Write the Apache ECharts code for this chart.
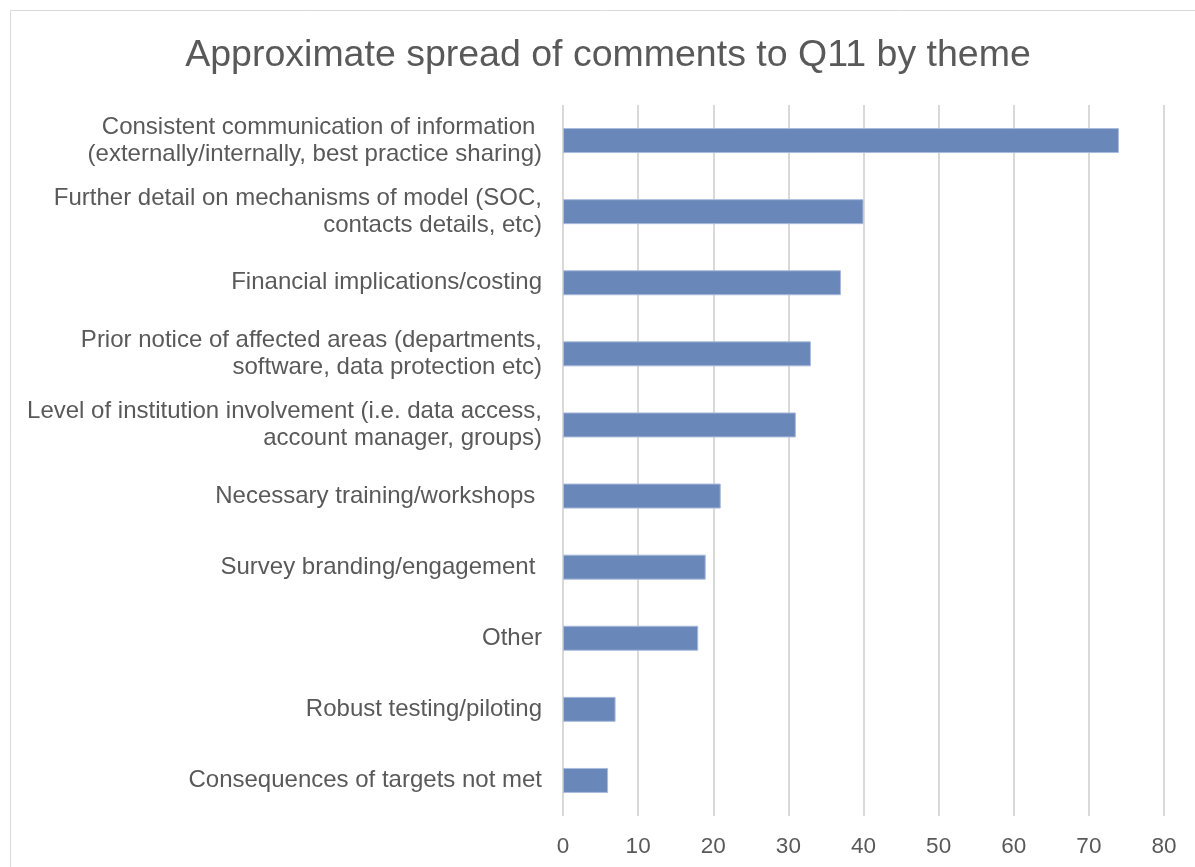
<!DOCTYPE html>
<html>
<head>
<meta charset="utf-8">
<script src="https://cdn.jsdelivr.net/npm/echarts@6/dist/echarts.min.js"></script>
<style>
  html, body { margin: 0; padding: 0; background: #fff; }
  #chart { width: 1195px; height: 867px; }
</style>
</head>
<body>
<div id="chart"></div>
<script>
// Themes of comments (top to bottom) and their approximate counts
const themes = [
  'Consistent communication of information \n(externally/internally, best practice sharing)',
  'Further detail on mechanisms of model (SOC,\ncontacts details, etc)',
  'Financial implications/costing',
  'Prior notice of affected areas (departments,\nsoftware, data protection etc)',
  'Level of institution involvement (i.e. data access,\naccount manager, groups)',
  'Necessary training/workshops ',
  'Survey branding/engagement ',
  'Other',
  'Robust testing/piloting',
  'Consequences of targets not met'
];
const counts = [74, 40, 37, 33, 31, 21, 19, 18, 7, 6];

const FONT = 'Liberation Sans, Arial, sans-serif';

const chart = echarts.init(document.getElementById('chart'));
chart.setOption({
  animation: false,
  backgroundColor: '#ffffff',
  title: {
    text: 'Approximate spread of comments to Q11 by theme',
    left: 603,
    textAlign: 'center',
    top: 32,
    textStyle: {
      fontFamily: FONT,
      fontSize: 37.5,
      fontWeight: 'normal',
      color: '#595959'
    }
  },
  graphic: [{
    type: 'rect',
    shape: { x: 10.5, y: 10.5, width: 1250, height: 950 },
    style: { fill: 'none', stroke: '#d9d9d9', lineWidth: 1 },
    silent: true
  }],
  grid: { left: 563, right: 31, top: 105, bottom: 51, containLabel: false },
  xAxis: {
    type: 'value',
    min: 0,
    max: 80,
    interval: 10,
    axisLine: { show: false },
    axisTick: { show: false },
    splitLine: { lineStyle: { color: '#d9d9d9', width: 2 } },
    axisLabel: {
      margin: 19,
      fontFamily: FONT,
      fontSize: 22.5,
      color: '#595959'
    }
  },
  yAxis: {
    type: 'category',
    inverse: true,
    data: themes,
    axisLine: { show: false },
    axisTick: { show: false },
    axisLabel: {
      margin: 21,
      fontFamily: FONT,
      fontSize: 24,
      lineHeight: 27,
      color: '#595959'
    }
  },
  series: [{
    type: 'bar',
    data: counts,
    barWidth: 25,
    itemStyle: { color: '#6A87BA', borderColor: '#a9bbdb', borderWidth: 1 }
  }]
});
</script>
</body>
</html>
